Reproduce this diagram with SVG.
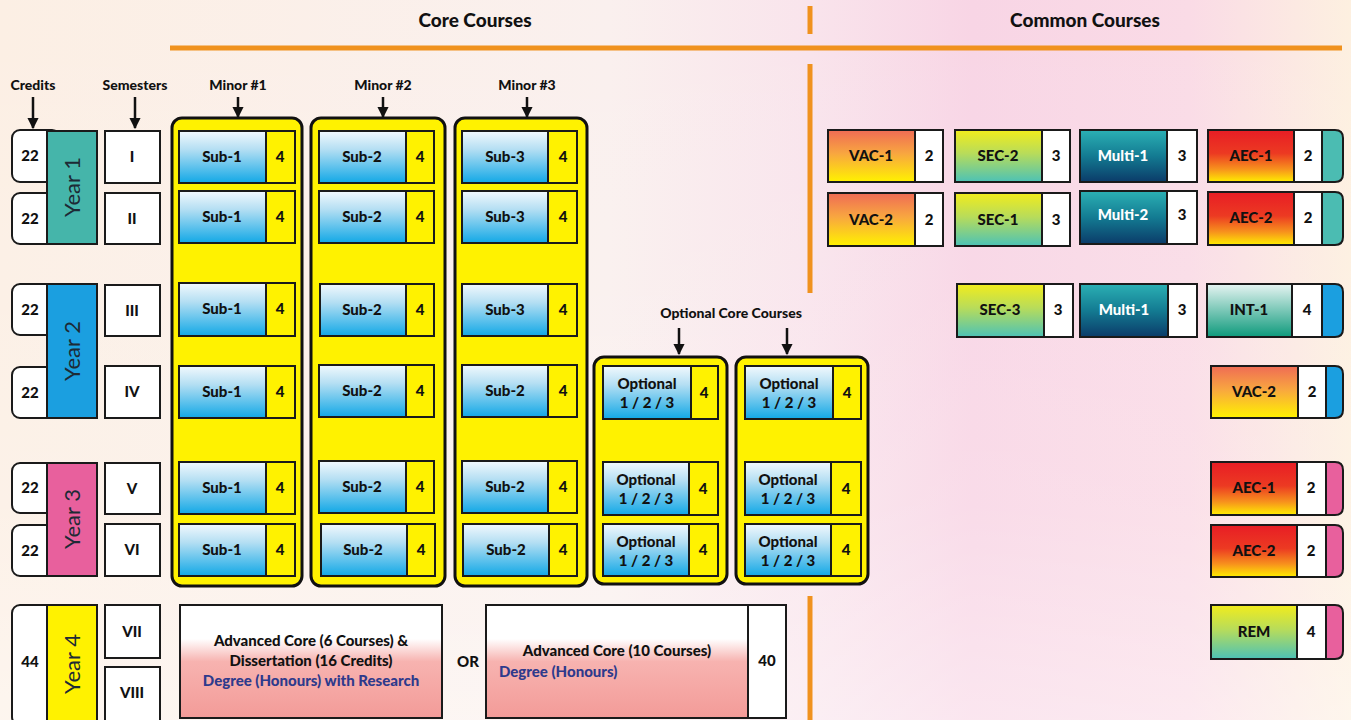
<svg xmlns="http://www.w3.org/2000/svg" width="1351" height="720" viewBox="0 0 1351 720">
<defs>
<linearGradient id="bg" x1="0" y1="0" x2="1" y2="0">
<stop offset="0" stop-color="#fcefe4"/><stop offset="0.45" stop-color="#faf0ee"/><stop offset="0.6" stop-color="#f9e4ec"/><stop offset="0.72" stop-color="#f8d5e5"/><stop offset="0.88" stop-color="#fadbe6"/><stop offset="1" stop-color="#fdf0e0"/>
</linearGradient>
<linearGradient id="bgv" x1="0" y1="0" x2="0" y2="1">
<stop offset="0" stop-color="#ffffff" stop-opacity="0"/><stop offset="0.7" stop-color="#ffffff" stop-opacity="0.15"/><stop offset="1" stop-color="#ffffff" stop-opacity="0.4"/>
</linearGradient>
<linearGradient id="gSub" x1="0" y1="0" x2="0" y2="1"><stop offset="0" stop-color="#f2f9fd"/><stop offset="0.35" stop-color="#b5dff3"/><stop offset="1" stop-color="#12a8e6"/></linearGradient>
<linearGradient id="gVac" x1="0" y1="0" x2="0" y2="1"><stop offset="0" stop-color="#ef6b55"/><stop offset="0.45" stop-color="#f8a640"/><stop offset="1" stop-color="#fff200"/></linearGradient>
<linearGradient id="gSec" x1="0" y1="0" x2="0" y2="1"><stop offset="0" stop-color="#f2ec1c"/><stop offset="0.45" stop-color="#b8dc5a"/><stop offset="1" stop-color="#4cc2b6"/></linearGradient>
<linearGradient id="gMul" x1="0" y1="0" x2="0" y2="1"><stop offset="0" stop-color="#2bb0b4"/><stop offset="0.5" stop-color="#137b92"/><stop offset="1" stop-color="#0b3b69"/></linearGradient>
<linearGradient id="gAec" x1="0" y1="0" x2="0" y2="1"><stop offset="0" stop-color="#e81d25"/><stop offset="0.45" stop-color="#ec3a22"/><stop offset="0.75" stop-color="#f7911d"/><stop offset="1" stop-color="#ffee00"/></linearGradient>
<linearGradient id="gInt" x1="0" y1="0" x2="0" y2="1"><stop offset="0" stop-color="#e6f4f2"/><stop offset="0.4" stop-color="#8fd0c2"/><stop offset="1" stop-color="#0e9a7c"/></linearGradient>
<linearGradient id="gAdv" x1="0" y1="0" x2="0" y2="1"><stop offset="0" stop-color="#ffffff"/><stop offset="0.3" stop-color="#ffffff"/><stop offset="0.5" stop-color="#f7b3b0"/><stop offset="1" stop-color="#f39b98"/></linearGradient>
<marker id="ah" viewBox="0 0 10 10" refX="9" refY="5" markerWidth="4.5" markerHeight="4.5" orient="auto"><path d="M0,0 L10,5 L0,10 Z" fill="#111"/></marker>
</defs>
<style>
text{font-family:Lato,"Liberation Sans",sans-serif;font-weight:900;fill:#111;text-anchor:middle}
.h{font-size:19px}
.lbl{font-size:14px}
.t{font-size:15px}
.tw{font-size:15px;fill:#ffffff}
.yr{font-size:22px;font-weight:normal;fill:#1d2a35}
.s{stroke:#1a1a1a;stroke-width:2}
.wh{fill:#ffffff;stroke:#1a1a1a;stroke-width:2}
.cont{fill:#fff200;stroke:#111;stroke-width:3}
.num{fill:#fff200;stroke:#1a1a1a;stroke-width:2}
.sub{fill:url(#gSub);stroke:#1a1a1a;stroke-width:2}
.or{stroke:#f0921e;stroke-width:5;fill:none}
.arr{stroke:#111;stroke-width:2.5;fill:none;marker-end:url(#ah)}
.deg{fill:#2e3a8c}
</style>
<rect x="0" y="0" width="1351" height="720" fill="url(#bg)"/>
<rect x="0" y="0" width="1351" height="720" fill="url(#bgv)"/>

<g id="headers">
<text class="h" x="475" y="27">Core Courses</text>
<text class="h" x="1085" y="27">Common Courses</text>
<line class="or" x1="170" y1="48" x2="1342" y2="48"/>
<line class="or" x1="810" y1="6" x2="810" y2="34"/>
<line class="or" x1="810" y1="64" x2="810" y2="293"/>
<line class="or" x1="810" y1="596" x2="810" y2="720"/>
<text class="lbl" x="33" y="90">Credits</text>
<text class="lbl" x="135" y="90">Semesters</text>
<text class="lbl" x="238" y="90">Minor #1</text>
<text class="lbl" x="383" y="90">Minor #2</text>
<text class="lbl" x="527" y="90">Minor #3</text>
<text class="lbl" x="731" y="318">Optional Core Courses</text>
</g>

<g id="connectors">
<line class="arr" x1="33" y1="97" x2="33" y2="128"/>
<line class="arr" x1="135" y1="97" x2="135" y2="128"/>
<line class="arr" x1="238" y1="97" x2="238" y2="117"/>
<line class="arr" x1="383" y1="97" x2="383" y2="117"/>
<line class="arr" x1="527" y1="97" x2="527" y2="117"/>
<line class="arr" x1="679" y1="328" x2="679" y2="354"/>
<line class="arr" x1="787" y1="328" x2="787" y2="354"/>
</g>

<g id="credits">
<rect class="wh" x="12" y="130" width="48" height="52" rx="8"/><text class="t" x="30" y="161">22</text>
<rect class="wh" x="12" y="193" width="48" height="51" rx="8"/><text class="t" x="30" y="224">22</text>
<rect class="wh" x="12" y="284" width="48" height="51" rx="8"/><text class="t" x="30" y="315">22</text>
<rect class="wh" x="12" y="367" width="48" height="51" rx="8"/><text class="t" x="30" y="398">22</text>
<rect class="wh" x="12" y="463" width="48" height="50" rx="8"/><text class="t" x="30" y="493">22</text>
<rect class="wh" x="12" y="525" width="48" height="51" rx="8"/><text class="t" x="30" y="556">22</text>
<rect class="wh" x="12" y="605" width="48" height="120" rx="8"/><text class="t" x="30" y="667">44</text>
</g>

<g id="year1"><rect class="s" x="47" y="131" width="50" height="113" fill="#45b5aa"/><text class="yr" transform="translate(80,187) rotate(-90)">Year 1</text></g>
<g id="year2"><rect class="s" x="47" y="284" width="50" height="134" fill="#1b9fe0"/><text class="yr" transform="translate(80,351) rotate(-90)">Year 2</text></g>
<g id="year3"><rect class="s" x="47" y="463" width="50" height="113" fill="#e8609d"/><text class="yr" transform="translate(80,519) rotate(-90)">Year 3</text></g>
<g id="year4"><rect class="s" x="47" y="605" width="50" height="120" fill="#fff200"/><text class="yr" transform="translate(80,664) rotate(-90)">Year 4</text></g>

<g id="semesters">
<rect class="wh" x="105" y="131" width="55" height="52"/><text class="t" x="132" y="162">I</text>
<rect class="wh" x="105" y="193" width="55" height="51"/><text class="t" x="132" y="224">II</text>
<rect class="wh" x="105" y="285" width="55" height="51"/><text class="t" x="132" y="316">III</text>
<rect class="wh" x="105" y="366" width="55" height="52"/><text class="t" x="132" y="397">IV</text>
<rect class="wh" x="105" y="463" width="55" height="51"/><text class="t" x="132" y="494">V</text>
<rect class="wh" x="105" y="524" width="55" height="52"/><text class="t" x="132" y="555">VI</text>
<rect class="wh" x="105" y="605" width="55" height="53"/><text class="t" x="132" y="637">VII</text>
<rect class="wh" x="105" y="667" width="55" height="55"/><text class="t" x="132" y="698">VIII</text>
</g>

<g id="minor1">
<rect class="cont" x="172" y="118" width="130" height="468" rx="10"/>
<rect class="sub" x="179" y="131" width="87" height="52"/><rect class="num" x="266" y="131" width="29" height="52"/><text class="t" x="222" y="162">Sub-1</text><text class="t" x="280" y="162">4</text>
<rect class="sub" x="179" y="191" width="87" height="52"/><rect class="num" x="266" y="191" width="29" height="52"/><text class="t" x="222" y="222">Sub-1</text><text class="t" x="280" y="222">4</text>
<rect class="sub" x="179" y="283" width="87" height="53"/><rect class="num" x="266" y="283" width="29" height="53"/><text class="t" x="222" y="314">Sub-1</text><text class="t" x="280" y="314">4</text>
<rect class="sub" x="179" y="366" width="87" height="52"/><rect class="num" x="266" y="366" width="29" height="52"/><text class="t" x="222" y="397">Sub-1</text><text class="t" x="280" y="397">4</text>
<rect class="sub" x="179" y="462" width="87" height="52"/><rect class="num" x="266" y="462" width="29" height="52"/><text class="t" x="222" y="493">Sub-1</text><text class="t" x="280" y="493">4</text>
<rect class="sub" x="179" y="524" width="87" height="52"/><rect class="num" x="266" y="524" width="29" height="52"/><text class="t" x="222" y="555">Sub-1</text><text class="t" x="280" y="555">4</text>
</g>

<g id="minor2">
<rect class="cont" x="311" y="118" width="134" height="468" rx="10"/>
<rect class="sub" x="319" y="131" width="87" height="52"/><rect class="num" x="406" y="131" width="28" height="52"/><text class="t" x="362" y="162">Sub-2</text><text class="t" x="420" y="162">4</text>
<rect class="sub" x="319" y="191" width="87" height="52"/><rect class="num" x="406" y="191" width="28" height="52"/><text class="t" x="362" y="222">Sub-2</text><text class="t" x="420" y="222">4</text>
<rect class="sub" x="320" y="284" width="86" height="52"/><rect class="num" x="406" y="284" width="28" height="52"/><text class="t" x="362" y="315">Sub-2</text><text class="t" x="420" y="315">4</text>
<rect class="sub" x="319" y="365" width="87" height="52"/><rect class="num" x="406" y="365" width="28" height="52"/><text class="t" x="362" y="396">Sub-2</text><text class="t" x="420" y="396">4</text>
<rect class="sub" x="319" y="461" width="87" height="52"/><rect class="num" x="406" y="461" width="28" height="52"/><text class="t" x="362" y="492">Sub-2</text><text class="t" x="420" y="492">4</text>
<rect class="sub" x="321" y="524" width="86" height="52"/><rect class="num" x="407" y="524" width="28" height="52"/><text class="t" x="363" y="555">Sub-2</text><text class="t" x="421" y="555">4</text>
</g>

<g id="minor3">
<rect class="cont" x="455" y="118" width="132" height="468" rx="10"/>
<rect class="sub" x="462" y="131" width="86" height="52"/><rect class="num" x="548" y="131" width="29" height="52"/><text class="t" x="505" y="162">Sub-3</text><text class="t" x="563" y="162">4</text>
<rect class="sub" x="462" y="191" width="86" height="52"/><rect class="num" x="548" y="191" width="29" height="52"/><text class="t" x="505" y="222">Sub-3</text><text class="t" x="563" y="222">4</text>
<rect class="sub" x="462" y="284" width="86" height="52"/><rect class="num" x="548" y="284" width="29" height="52"/><text class="t" x="505" y="315">Sub-3</text><text class="t" x="563" y="315">4</text>
<rect class="sub" x="462" y="365" width="86" height="52"/><rect class="num" x="548" y="365" width="29" height="52"/><text class="t" x="505" y="396">Sub-2</text><text class="t" x="563" y="396">4</text>
<rect class="sub" x="462" y="461" width="86" height="52"/><rect class="num" x="548" y="461" width="29" height="52"/><text class="t" x="505" y="492">Sub-2</text><text class="t" x="563" y="492">4</text>
<rect class="sub" x="463" y="524" width="86" height="52"/><rect class="num" x="549" y="524" width="28" height="52"/><text class="t" x="506" y="555">Sub-2</text><text class="t" x="563" y="555">4</text>
</g>

<g id="optional1">
<rect class="cont" x="594" y="357" width="133" height="227" rx="10"/>
<rect class="sub" x="603" y="366" width="88" height="53"/><rect class="num" x="691" y="366" width="27" height="53"/><text class="t" x="647" y="389">Optional</text><text class="t" x="647" y="408">1 / 2 / 3</text><text class="t" x="704" y="398">4</text>
<rect class="sub" x="603" y="462" width="86" height="53"/><rect class="num" x="689" y="462" width="29" height="53"/><text class="t" x="646" y="485">Optional</text><text class="t" x="646" y="504">1 / 2 / 3</text><text class="t" x="703" y="494">4</text>
<rect class="sub" x="603" y="524" width="86" height="52"/><rect class="num" x="689" y="524" width="29" height="52"/><text class="t" x="646" y="547">Optional</text><text class="t" x="646" y="566">1 / 2 / 3</text><text class="t" x="703" y="555">4</text>
</g>

<g id="optional2">
<rect class="cont" x="736" y="357" width="132" height="227" rx="10"/>
<rect class="sub" x="745" y="366" width="88" height="53"/><rect class="num" x="833" y="366" width="28" height="53"/><text class="t" x="789" y="389">Optional</text><text class="t" x="789" y="408">1 / 2 / 3</text><text class="t" x="847" y="398">4</text>
<rect class="sub" x="745" y="462" width="86" height="53"/><rect class="num" x="831" y="462" width="30" height="53"/><text class="t" x="788" y="485">Optional</text><text class="t" x="788" y="504">1 / 2 / 3</text><text class="t" x="846" y="494">4</text>
<rect class="sub" x="745" y="524" width="86" height="52"/><rect class="num" x="831" y="524" width="30" height="52"/><text class="t" x="788" y="547">Optional</text><text class="t" x="788" y="566">1 / 2 / 3</text><text class="t" x="846" y="555">4</text>
</g>

<g id="advanced1">
<rect x="180" y="605" width="262" height="113" fill="url(#gAdv)" stroke="#1a1a1a" stroke-width="2"/>
<text class="t" x="311" y="646">Advanced Core (6 Courses) &amp;</text>
<text class="t" x="311" y="666">Dissertation (16 Credits)</text>
<text class="t deg" x="311" y="686">Degree (Honours) with Research</text>
</g>
<g id="or"><text class="t" x="468" y="667">OR</text></g>
<g id="advanced2">
<rect x="486" y="605" width="262" height="113" fill="url(#gAdv)" stroke="#1a1a1a" stroke-width="2"/>
<rect class="wh" x="748" y="605" width="38" height="113"/>
<text class="t" x="617" y="656">Advanced Core (10 Courses)</text>
<text class="t deg" x="499" y="677" style="text-anchor:start">Degree (Honours)</text>
<text class="t" x="767" y="666">40</text>
</g>

<g id="vac1"><rect class="s" x="828" y="130" width="87" height="52" fill="url(#gVac)"/><rect class="wh" x="915" y="130" width="28" height="52"/><text class="t" x="871" y="161">VAC-1</text><text class="t" x="929" y="161">2</text></g>
<g id="sec2"><rect class="s" x="955" y="130" width="87" height="52" fill="url(#gSec)"/><rect class="wh" x="1042" y="130" width="28" height="52"/><text class="t" x="998" y="161">SEC-2</text><text class="t" x="1056" y="161">3</text></g>
<g id="multi1a"><rect class="s" x="1080" y="130" width="87" height="52" fill="url(#gMul)"/><rect class="wh" x="1167" y="130" width="30" height="52"/><text class="tw" x="1123" y="161">Multi-1</text><text class="t" x="1182" y="161">3</text></g>
<g id="aec1a"><path class="s" d="M1322,130 H1335 Q1343,130 1343,138 V174 Q1343,182 1335,182 H1322 Z" fill="#4bbcb2"/><rect class="s" x="1208" y="130" width="86" height="52" fill="url(#gAec)"/><rect class="wh" x="1294" y="130" width="28" height="52"/><text class="t" x="1251" y="161">AEC-1</text><text class="t" x="1308" y="161">2</text></g>

<g id="vac2a"><rect class="s" x="828" y="193" width="87" height="53" fill="url(#gVac)"/><rect class="wh" x="915" y="193" width="28" height="53"/><text class="t" x="871" y="225">VAC-2</text><text class="t" x="929" y="225">2</text></g>
<g id="sec1"><rect class="s" x="955" y="193" width="87" height="53" fill="url(#gSec)"/><rect class="wh" x="1042" y="193" width="28" height="53"/><text class="t" x="998" y="225">SEC-1</text><text class="t" x="1056" y="225">3</text></g>
<g id="multi2"><rect class="s" x="1080" y="191" width="87" height="53" fill="url(#gMul)"/><rect class="wh" x="1167" y="191" width="30" height="53"/><text class="tw" x="1123" y="220">Multi-2</text><text class="t" x="1182" y="220">3</text></g>
<g id="aec2a"><path class="s" d="M1322,192 H1335 Q1343,192 1343,200 V237 Q1343,245 1335,245 H1322 Z" fill="#4bbcb2"/><rect class="s" x="1208" y="192" width="86" height="53" fill="url(#gAec)"/><rect class="wh" x="1294" y="192" width="28" height="53"/><text class="t" x="1251" y="223">AEC-2</text><text class="t" x="1308" y="223">2</text></g>

<g id="sec3"><rect class="s" x="957" y="284" width="87" height="53" fill="url(#gSec)"/><rect class="wh" x="1044" y="284" width="29" height="53"/><text class="t" x="1000" y="315">SEC-3</text><text class="t" x="1058" y="315">3</text></g>
<g id="multi1b"><rect class="s" x="1080" y="284" width="88" height="53" fill="url(#gMul)"/><rect class="wh" x="1168" y="284" width="29" height="53"/><text class="tw" x="1124" y="315">Multi-1</text><text class="t" x="1182" y="315">3</text></g>
<g id="int1"><path class="s" d="M1322,284 H1335 Q1343,284 1343,292 V329 Q1343,337 1335,337 H1322 Z" fill="#1b9fe0"/><rect class="s" x="1207" y="284" width="85" height="53" fill="url(#gInt)"/><rect class="wh" x="1292" y="284" width="30" height="53"/><text class="t" x="1249" y="315">INT-1</text><text class="t" x="1307" y="315">4</text></g>

<g id="vac2b"><path class="s" d="M1326,366 H1335 Q1343,366 1343,374 V410 Q1343,418 1335,418 H1326 Z" fill="#1b9fe0"/><rect class="s" x="1211" y="366" width="87" height="52" fill="url(#gVac)"/><rect class="wh" x="1298" y="366" width="28" height="52"/><text class="t" x="1254" y="397">VAC-2</text><text class="t" x="1312" y="397">2</text></g>

<g id="aec1b"><path class="s" d="M1326,462 H1335 Q1343,462 1343,470 V507 Q1343,515 1335,515 H1326 Z" fill="#e8609d"/><rect class="s" x="1211" y="462" width="86" height="53" fill="url(#gAec)"/><rect class="wh" x="1297" y="462" width="29" height="53"/><text class="t" x="1254" y="493">AEC-1</text><text class="t" x="1311" y="493">2</text></g>
<g id="aec2b"><path class="s" d="M1326,525 H1335 Q1343,525 1343,533 V569 Q1343,577 1335,577 H1326 Z" fill="#e8609d"/><rect class="s" x="1211" y="525" width="86" height="52" fill="url(#gAec)"/><rect class="wh" x="1297" y="525" width="29" height="52"/><text class="t" x="1254" y="556">AEC-2</text><text class="t" x="1311" y="556">2</text></g>

<g id="rem"><path class="s" d="M1326,605 H1335 Q1343,605 1343,613 V651 Q1343,659 1335,659 H1326 Z" fill="#e8609d"/><rect class="s" x="1211" y="605" width="86" height="54" fill="url(#gSec)"/><rect class="wh" x="1297" y="605" width="29" height="54"/><text class="t" x="1254" y="637">REM</text><text class="t" x="1311" y="637">4</text></g>
</svg>
